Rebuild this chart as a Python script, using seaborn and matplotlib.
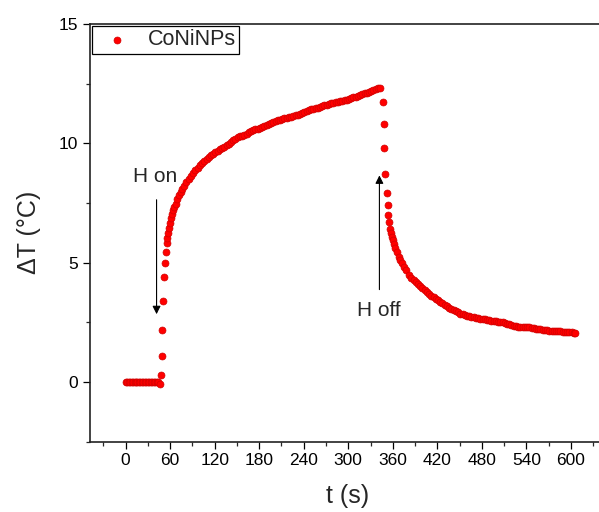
import matplotlib
matplotlib.use('Agg')
import matplotlib.pyplot as plt
import pandas as pd
import seaborn as sns
from matplotlib.ticker import MultipleLocator

# before the field is switched on
t_base = [0, 2, 4, 6, 8, 10, 12, 14, 16, 18, 20, 22, 24, 26, 28, 30, 32, 34, 36, 38, 40, 42, 44]
dT_base = [0.0, 0.0, 0.0, 0.0, 0.0, 0.0, 0.0, 0.0, 0.0, 0.0, 0.0, 0.0,
           0.0, 0.0, 0.0, 0.0, 0.0, 0.0, 0.0, 0.0, 0.0, 0.0, 0.0]

# heating (H on)
t_heat = [46.5, 47.1, 48.5, 49.4, 50.7, 51.8, 53.4, 54.2, 55.3, 56.4, 57.6, 58.8, 60.0,
          61.3, 62.6, 64, 65.5, 67.5, 69.5, 71.5, 74, 76.5, 79, 82, 85, 88, 91, 94, 97,
          100, 103, 106, 109, 112, 115, 118, 121, 124, 127, 130,
          133, 136, 139, 142, 145, 148, 151, 154, 157, 160, 163, 166, 169, 172, 175, 178,
          181, 184, 187, 190, 193, 196, 199, 202, 205, 208, 211, 214, 217, 220, 223, 226,
          229, 232, 235, 238, 241, 244, 247, 250, 253, 256, 259, 262, 265, 268, 271, 274,
          277, 280, 283, 286, 289, 292, 295, 298, 301, 304, 307, 310, 313, 316, 319, 322,
          325, 328, 331, 334, 337, 340, 342.4]
dT_heat = [-0.1, 0.30, 1.08, 2.19, 3.40, 4.39, 4.99, 5.43, 5.81, 6.02, 6.24, 6.45, 6.65,
           6.86, 7.05, 7.2, 7.32, 7.45, 7.65, 7.82, 7.95, 8.08, 8.2, 8.36, 8.52, 8.64, 8.76, 8.88, 8.98,
           9.07, 9.16, 9.25, 9.34, 9.42, 9.5, 9.57, 9.63, 9.69, 9.74, 9.80,
           9.86, 9.92, 9.98, 10.05, 10.12, 10.2, 10.26, 10.29, 10.3, 10.34, 10.4, 10.47, 10.5, 10.54, 10.58, 10.6,
           10.64, 10.68, 10.72, 10.76, 10.82, 10.86, 10.88, 10.92, 10.96, 10.99, 11.02, 11.05, 11.08, 11.1, 11.12, 11.14,
           11.17, 11.2, 11.22, 11.27, 11.32, 11.36, 11.38, 11.42, 11.44, 11.47, 11.5, 11.52, 11.56, 11.6, 11.62, 11.66,
           11.67, 11.68, 11.72, 11.75, 11.76, 11.77, 11.8, 11.83, 11.86, 11.88, 11.92, 11.95, 11.99, 12.04, 12.08, 12.1,
           12.12, 12.16, 12.2, 12.24, 12.27, 12.32, 12.33]

# cooling (H off)
t_cool = [346.5, 347.8, 348.7, 350.1, 351.8, 353.2, 354.1, 355.4, 356.8, 357.9, 359.0, 360.2,
          361.2, 363.2, 365.7, 368.3, 370.3, 372.3, 374.7, 377.3, 381.3,
          385, 388, 391, 394, 397, 400, 403, 406, 409, 412, 415, 418, 421, 424, 427, 430,
          433, 436, 439, 442, 445, 448, 451, 454, 457, 460, 463, 466, 469, 472, 475, 478,
          481, 484, 487, 490, 493, 496, 499, 502, 505, 508, 511, 514, 517, 520, 523, 526,
          529, 532, 535, 538, 541, 544, 547, 550, 553, 556, 559, 562, 565, 568, 571, 574,
          577, 580, 583, 586, 589, 592, 595, 598, 601, 604, 606]
dT_cool = [11.73, 10.82, 9.82, 8.72, 7.91, 7.42, 7.01, 6.71, 6.39, 6.22, 6.08, 5.93,
           5.78, 5.62, 5.45, 5.25, 5.1, 4.97, 4.82, 4.67, 4.47,
           4.37, 4.28, 4.19, 4.1, 4.0, 3.92, 3.84, 3.76, 3.68, 3.61, 3.55, 3.49, 3.43, 3.36, 3.3, 3.24,
           3.17, 3.11, 3.06, 3.01, 2.96, 2.91, 2.86, 2.83, 2.8, 2.77, 2.74, 2.72, 2.7, 2.68, 2.66, 2.65,
           2.64, 2.62, 2.6, 2.58, 2.57, 2.56, 2.54, 2.52, 2.51, 2.49, 2.46, 2.43, 2.41, 2.39, 2.36, 2.33,
           2.31, 2.3, 2.29, 2.29, 2.28, 2.28, 2.26, 2.24, 2.23, 2.22, 2.21, 2.19, 2.17, 2.16, 2.15, 2.14,
           2.13, 2.12, 2.12, 2.12, 2.11, 2.11, 2.1, 2.09, 2.07, 2.05, 2.04]

df = pd.DataFrame({'t': t_base + t_heat + t_cool,
                   'dT': dT_base + dT_heat + dT_cool})

sns.set_style('ticks')
plt.rcParams['font.family'] = ['Liberation Sans', 'DejaVu Sans']

fig = plt.figure(figsize=(5.99, 5.12), dpi=100)
ax = fig.add_axes([90 / 599, 70.5 / 512, 515 / 599, 417.5 / 512])

sns.scatterplot(data=df, x='t', y='dT', color='#ff0000', edgecolor='#d00000',
                linewidth=0.5, s=25, label='CoNiNPs', ax=ax, zorder=3)

ax.set_xlim(-48, 646)
ax.set_ylim(-2.5, 15)
ax.xaxis.set_major_locator(MultipleLocator(60))
ax.xaxis.set_minor_locator(MultipleLocator(30))
ax.yaxis.set_major_locator(MultipleLocator(5))
ax.yaxis.set_minor_locator(MultipleLocator(2.5))
ax.tick_params(which='major', direction='out', length=5, width=0.9, labelsize=12.5, colors='black')
ax.tick_params(which='minor', direction='out', length=3, width=0.9)
ax.tick_params(axis='x', which='both', top=False)
ax.tick_params(axis='y', which='both', right=False)
for side in ['left', 'bottom', 'top']:
    ax.spines[side].set_visible(True)
    ax.spines[side].set_linewidth(1.2)
    ax.spines[side].set_color('#222222')
ax.spines['right'].set_visible(False)

ax.set_xlabel('t (s)', fontsize=18, labelpad=11)
ax.set_ylabel('ΔT (°C)', fontsize=18, labelpad=13)

# arrows and labels
ax.annotate('', xy=(41.7, 2.72), xytext=(41.7, 7.75),
            arrowprops=dict(arrowstyle='-|>', color='black', lw=0.8, mutation_scale=12))
ax.text(39.7, 8.61, 'H on', fontsize=15, ha='center', va='center')
ax.annotate('', xy=(342, 8.77), xytext=(342, 3.75),
            arrowprops=dict(arrowstyle='-|>', color='black', lw=0.8, mutation_scale=12))
ax.text(340.6, 3.0, 'H off', fontsize=15, ha='center', va='center')

leg = ax.legend(loc='upper left', bbox_to_anchor=(0, 1), borderaxespad=0.1,
                fontsize=15.5, frameon=True, fancybox=False, framealpha=1,
                edgecolor='black', borderpad=0.15, handlelength=2.0,
                handletextpad=0.45, markerscale=1.0)
leg.get_frame().set_linewidth(0.9)

plt.savefig('out.png', dpi=100)
